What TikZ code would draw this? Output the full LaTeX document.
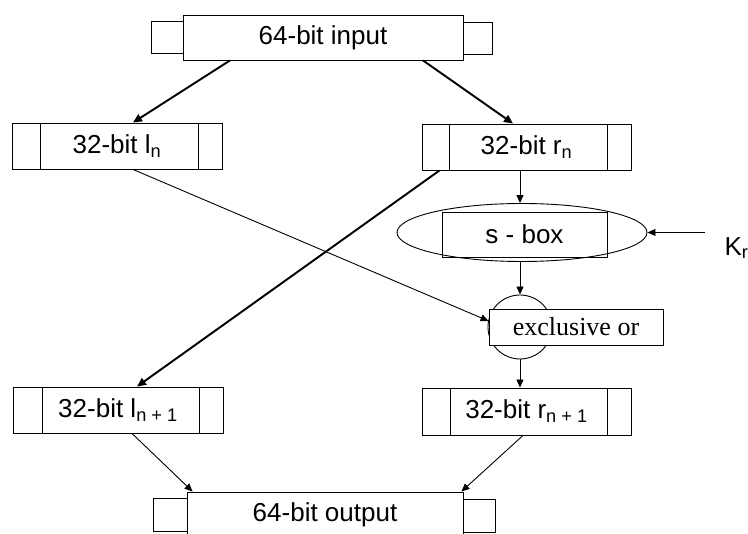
\documentclass[tikz,border=0pt]{standalone}
\usepackage{fontspec}
\setmainfont{Liberation Sans}
\newfontfamily\timesfont{Liberation Serif}
\usetikzlibrary{arrows.meta,shapes.geometric,calc}
\begin{document}
\begin{tikzpicture}[x=1pt,y=-1pt,
  font=\fontsize{26}{28}\selectfont,
  box/.style={draw,line width=0.9pt,inner sep=0pt,minimum width=#1},
  sq/.style={draw,line width=0.9pt,inner sep=0pt},
  thinarrow/.style={line width=0.9pt,-{Triangle[length=8pt,width=7pt]}},
  thickarrow/.style={line width=1.9pt,-{Triangle[length=9pt,width=8pt]}}]
\useasboundingbox (0,0) rectangle (748,534);

% 64-bit input with its two end blocks
\node[sq,minimum width=32,minimum height=32] (inL) at (167,37) {};
\node[sq,minimum width=29,minimum height=32] (inR) at (477.5,38) {};
\node[box=280,minimum height=45,fill=white] (in) at (323,37.5) {64-bit input};

% 32-bit halves
\node[box=210,minimum height=46] (ln) at (117,146) {32-bit l\textsubscript{n}};
\draw[line width=0.9pt] ([xshift=29]ln.north west) -- ([xshift=29]ln.south west)
                        ([xshift=-24]ln.north east) -- ([xshift=-24]ln.south east);
\node[box=209,minimum height=46] (rn) at (526.5,147) {32-bit r\textsubscript{n}};
\draw[line width=0.9pt] ([xshift=28]rn.north west) -- ([xshift=28]rn.south west)
                        ([xshift=-24]rn.north east) -- ([xshift=-24]rn.south east);

% s-box: ellipse with an inner block
\node[draw,ellipse,line width=0.9pt,minimum width=250,minimum height=58,inner sep=0pt] (sbox) at (522,232.5) {};
\node[box=165,minimum height=45] (sboxr) at (524.5,234.5) {s - box};
\node[anchor=west] (K) at (721,248) {K\textsubscript{r}};
\coordinate (kin) at (705,232.5);

% exclusive or: circle behind a block
\node[draw,circle,line width=0.9pt,minimum size=64,inner sep=0pt] (xor) at (520,327) {};
\node[box=174,minimum height=36,fill=white,font=\timesfont\fontsize{26}{28}\selectfont] (xorbox) at (576,327) {exclusive or};

% next halves
\node[box=210,minimum height=46] (lnp) at (118,410) {32-bit l\textsubscript{n + 1}};
\draw[line width=0.9pt] ([xshift=30]lnp.north west) -- ([xshift=30]lnp.south west)
                        ([xshift=-24]lnp.north east) -- ([xshift=-24]lnp.south east);
\node[box=209,minimum height=47] (rnp) at (526.5,411.5) {32-bit r\textsubscript{n + 1}};
\draw[line width=0.9pt] ([xshift=29]rnp.north west) -- ([xshift=29]rnp.south west)
                        ([xshift=-24]rnp.north east) -- ([xshift=-24]rnp.south east);

% 64-bit output with its two end blocks
\node[sq,minimum width=34,minimum height=33] (outL) at (170,514.5) {};
\node[sq,minimum width=32,minimum height=33] (outR) at (479,515.5) {};
\node[box=276,minimum height=48,fill=white] (out) at (325,516) {};
\node (outtxt) at (325,515) {64-bit output};

% connectors
\draw[thickarrow] ([xshift=-93]in.south) -- ([xshift=16]ln.north);
\draw[thickarrow] ([xshift=100]in.south) -- ([xshift=-13.5]rn.north);
\draw[thinarrow] ([xshift=-6.5]rn.south) -- ([xshift=-2]sbox.north);
\draw[thinarrow] (kin) -- (sbox.east);
\draw[thinarrow] ([xshift=-2]sbox.south) -- (xor.north);
\draw[thinarrow] ([xshift=16]ln.south) -- ([yshift=6]xorbox.west);
\draw[thickarrow] ([xshift=18]rn.south west) -- ([xshift=19]lnp.north);
\draw[thinarrow] (xor.south) -- ([xshift=-6.5]rnp.north);
\draw[thinarrow] ([xshift=14]lnp.south) -- ([xshift=6]out.north west);
\draw[thinarrow] ([xshift=-3.5]rnp.south) -- ([xshift=-2]out.north east);
\end{tikzpicture}
\end{document}
